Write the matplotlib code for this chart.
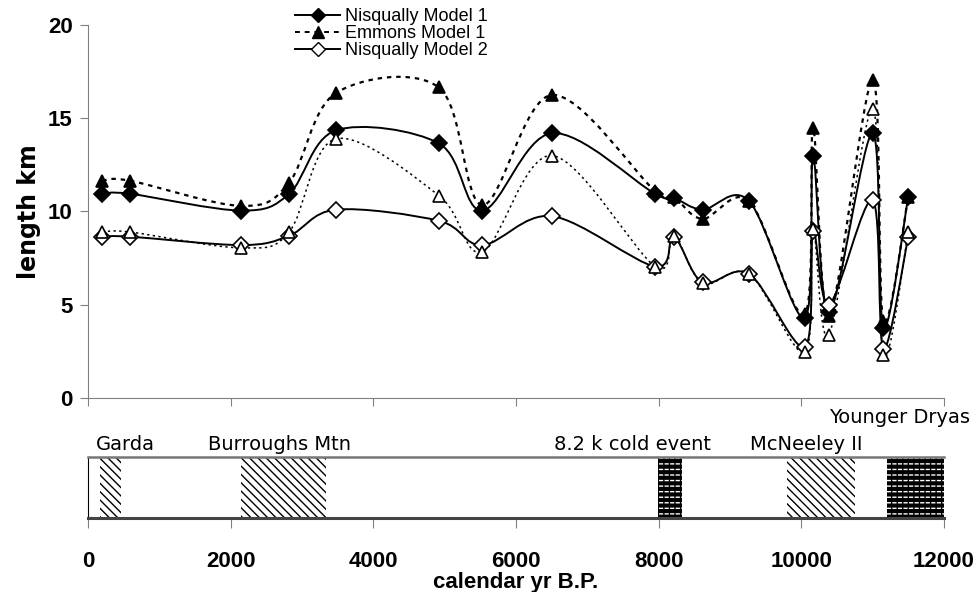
import numpy as np
import matplotlib
matplotlib.use("Agg")
import matplotlib.pyplot as plt
from matplotlib.path import Path
from matplotlib.patches import PathPatch, Rectangle
from matplotlib.lines import Line2D

plt.rcParams['font.family'] = ['Liberation Sans', 'DejaVu Sans']
plt.rcParams['hatch.linewidth'] = 1.0

# calendar yr B.P. of each model point
years = [200, 590, 2150, 2820, 3475, 4920, 5530, 6505, 7950, 8210,
         8615, 9270, 10050, 10165, 10390, 11000, 11150, 11500]

# glacier length (km)
nisqually_1 = [10.95, 10.95, 10.05, 10.95, 14.35, 13.65, 10.05, 14.2, 10.95, 10.75,
               10.1, 10.55, 4.3, 12.95, 4.6, 14.2, 3.75, 10.8]
emmons_1 = [11.65, 11.65, 10.3, 11.55, 16.35, 16.65, 10.35, 16.25, 11.1, 10.8,
            9.6, 10.55, 4.5, 14.5, 4.4, 17.05, 4.15, 10.8]
nisqually_2 = [8.65, 8.65, 8.2, 8.7, 10.1, 9.5, 8.2, 9.75, 7.05, 8.65,
               6.2, 6.65, 2.75, 8.95, 5.0, 10.6, 2.65, 8.65]
emmons_2 = [8.9, 8.9, 8.05, 8.9, 13.9, 10.85, 7.85, 13.0, 7.05, 8.7,
            6.15, 6.65, 2.45, 9.05, 3.4, 15.5, 2.3, 8.9]

# climate events in the lower strip (start, end in yr B.P.)
event_names = ['Garda', 'Burroughs Mtn', '8.2 k cold event', 'McNeeley II', 'Younger Dryas']
event_start = [170, 2150, 7990, 9800, 11200]
event_end = [460, 3340, 8330, 10750, 12000]
event_dark = [False, False, True, False, True]


def smooth_path(ax, xs, ys):
    # excel style smoothed line: catmull-rom bezier in screen space
    pts = ax.transData.transform(np.column_stack([xs, ys]))
    n = len(pts)
    tang = []
    for i in range(n):
        a = pts[max(i - 1, 0)]
        b = pts[min(i + 1, n - 1)]
        tang.append((b - a) / 6.0)
    verts = [pts[0]]
    codes = [Path.MOVETO]
    for i in range(n - 1):
        verts += [pts[i] + tang[i], pts[i + 1] - tang[i + 1], pts[i + 1]]
        codes += [Path.CURVE4] * 3
    verts = ax.transData.inverted().transform(np.array(verts))
    return Path(verts, codes)


fig = plt.figure(figsize=(9.78, 5.92), dpi=100)
ax = fig.add_axes([88 / 978, 1 - 398 / 592, 856 / 978, 373 / 592])
ax2 = fig.add_axes([88 / 978, 1 - 518 / 592, 856 / 978, 61 / 592])

ax.set_xlim(0, 12000)
ax.set_ylim(0, 20)

series = [
    (nisqually_1, '-', 1.4, 'D', 'black', 8),
    (emmons_1, (0, (2, 2.2)), 1.6, '^', 'black', 9),
    (nisqually_2, '-', 1.4, 'D', 'white', 8),
    (emmons_2, (0, (1.5, 2.2)), 1.1, '^', 'white', 9),
]
for vals, ls, lw, mk, fc, ms in series:
    ax.add_patch(PathPatch(smooth_path(ax, years, vals), fill=False,
                           edgecolor='black', lw=lw, linestyle=ls, zorder=2))
for vals, ls, lw, mk, fc, ms in series:
    ax.plot(years, vals, linestyle='none', marker=mk, ms=ms, mfc=fc,
            mec='black', mew=1.2, zorder=3, clip_on=False)

for s in ['top', 'right']:
    ax.spines[s].set_visible(False)
for s in ['left', 'bottom']:
    ax.spines[s].set_color('#808080')
ax.set_xticks(range(0, 12001, 2000))
ax.set_xticklabels([])
ax.set_yticks([0, 5, 10, 15, 20])
ax.set_yticklabels(['0', '5', '10', '15', '20'], fontsize=16, fontweight='bold')
ax.tick_params(direction='out', length=6, color='#808080', pad=5)
ax.set_ylabel('length km', fontsize=17, fontweight='bold', family='DejaVu Sans', labelpad=5)

handles = [
    Line2D([], [], color='black', ls='-', lw=1.4, marker='D', ms=7, mfc='black'),
    Line2D([], [], color='black', ls=(0, (2.5, 2.5)), lw=1.4, marker='^', ms=8.5, mfc='black'),
    Line2D([], [], color='black', ls='-', lw=1.4, marker='D', ms=7, mfc='white'),
]
fig.legend(handles, ['Nisqually Model 1', 'Emmons Model 1', 'Nisqually Model 2'],
           loc='upper left', bbox_to_anchor=(286 / 978, 1 + 1 / 592), frameon=False,
           fontsize=13, borderpad=0, handlelength=2.5, handletextpad=0.25,
           labelspacing=0.0)

# lower strip with the climate events
ax2.set_xlim(0, 12000)
ax2.set_ylim(0, 1)
for x0, x1, dark in zip(event_start, event_end, event_dark):
    if dark:
        ax2.add_patch(Rectangle((x0, 0), x1 - x0, 1, facecolor='black',
                                edgecolor='white', hatch='---', lw=0, zorder=1))
        ax2.add_patch(Rectangle((x0, 0), x1 - x0, 1, facecolor='none',
                                edgecolor='black', hatch='|||', lw=0, zorder=1))
    else:
        ax2.add_patch(Rectangle((x0, 0), x1 - x0, 1, facecolor='white',
                                edgecolor='black', hatch='\\\\\\\\', lw=0, zorder=1))

label_x = [530, 2690, 7640, 10065, 11380]
label_y = [1.12, 1.12, 1.12, 1.12, 1.55]
for name, lx, ly in zip(event_names, label_x, label_y):
    ax2.text(lx, ly, name, ha='center', va='baseline', fontsize=14,
             family='DejaVu Sans', clip_on=False)

ax2.spines['right'].set_visible(False)
ax2.spines['top'].set_color('#777777')
ax2.spines['top'].set_linewidth(1.8)
ax2.spines['bottom'].set_color('#444444')
ax2.spines['bottom'].set_linewidth(2.2)
ax2.spines['left'].set_linewidth(0.8)
ax2.set_yticks([])
ax2.set_xticks(range(0, 12001, 2000))
ax2.set_xticklabels([str(v) for v in range(0, 12001, 2000)], fontsize=16, fontweight='bold')
ax2.tick_params(axis='x', direction='out', length=7, color='#808080', pad=17)
ax2.set_xlabel('calendar yr B.P.', fontsize=16, fontweight='bold', labelpad=0)

fig.savefig('out.png', dpi=100)
